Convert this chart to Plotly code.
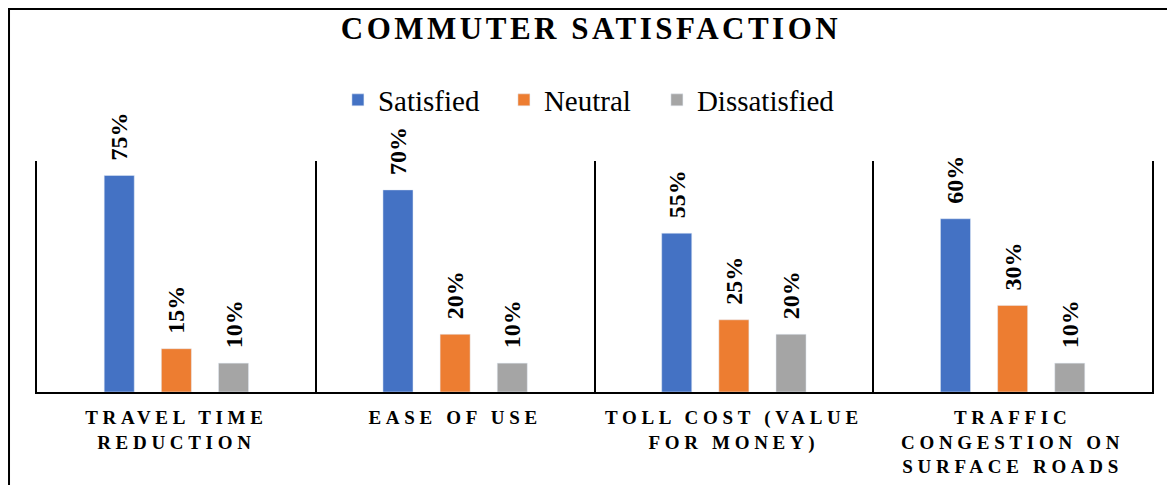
import plotly.graph_objects as go

categories = [
    "TRAVEL TIME<br>REDUCTION",
    "EASE OF USE",
    "TOLL COST (VALUE<br>FOR MONEY)",
    "TRAFFIC<br>CONGESTION ON<br>SURFACE ROADS",
]
satisfied = [75, 70, 55, 60]
neutral = [15, 20, 25, 30]
dissatisfied = [10, 10, 20, 10]

series = [
    ("Satisfied", satisfied, "#4472C4", 121),
    ("Neutral", neutral, "#ED7D31", 108),
    ("Dissatisfied", dissatisfied, "#A5A5A5", None),
]

SERIF = "Liberation Serif, Times New Roman, serif"


def spaced(label, px):
    # letter-spacing per line, plotly passes span styles through to the svg
    return "<br>".join(
        '<span style="letter-spacing:{}px">{}</span>'.format(px, part)
        for part in label.split("<br>")
    )


xlabels = [spaced(c, 4.7) for c in categories]

fig = go.Figure()
for name, values, color, lw in series:
    fig.add_trace(
        go.Bar(
            name=name,
            x=xlabels,
            y=values,
            marker_color=color,
            texttemplate="\u00a0\u00a0%{y}%",
            textposition="outside",
            textangle=-90,
            constraintext="none",
            cliponaxis=False,
            textfont=dict(family=SERIF, size=24, color="black", weight="bold"),
            legendwidth=lw,
        )
    )

# page body has an 8px margin, figure is sized to fit inside it
fig.update_layout(
    width=1159,
    height=477,
    margin=dict(l=29, r=15, t=153, b=93, autoexpand=False),
    paper_bgcolor="white",
    plot_bgcolor="white",
    barmode="group",
    bargap=0.385,
    bargroupgap=0.474,
    title=dict(
        text=spaced("COMMUTER SATISFACTION", 3.5),
        font=dict(family=SERIF, size=31, color="black", weight="bold"),
        x=0.503,
        xref="container",
        xanchor="center",
        y=1 - 20 / 477,
        yref="container",
        yanchor="middle",
    ),
    legend=dict(
        orientation="h",
        x=0.495,
        xanchor="center",
        y=1.264,
        yanchor="middle",
        font=dict(family=SERIF, size=29, color="black"),
        bgcolor="rgba(0,0,0,0)",
    ),
    xaxis=dict(
        type="category",
        tickson="boundaries",
        ticks="",
        ticklabelstandoff=7,
        showgrid=True,
        gridcolor="black",
        gridwidth=2,
        showline=True,
        linecolor="black",
        linewidth=2,
        zeroline=False,
        tickfont=dict(family=SERIF, size=19, color="black", weight="bold"),
    ),
    yaxis=dict(
        range=[0, 80],
        showticklabels=False,
        showgrid=False,
        zeroline=False,
        showline=True,
        mirror=True,
        linecolor="black",
        linewidth=2,
        ticks="",
    ),
    shapes=[
        dict(
            type="rect",
            xref="paper",
            yref="paper",
            x0=-0.0251,
            x1=1.1,
            y0=-0.6,
            y1=1.658,
            line=dict(color="black", width=2),
            layer="below",
        )
    ],
)

fig.write_html("out.html")
